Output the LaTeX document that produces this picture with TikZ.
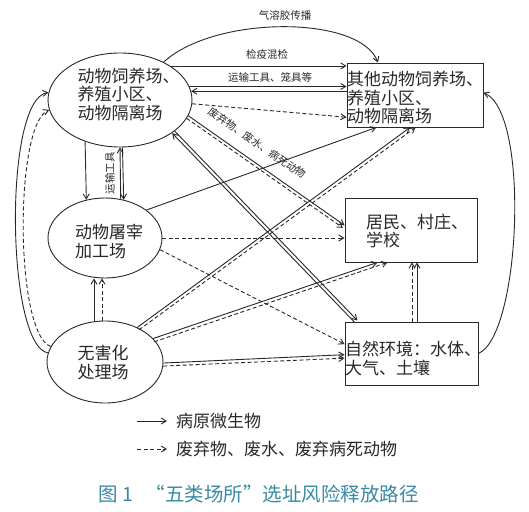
\documentclass[tikz,border=0pt]{standalone}
\usepackage{fontspec}
\setmainfont{Noto Sans CJK SC}
\usetikzlibrary{shapes.geometric,arrows.meta}
\definecolor{capcol}{RGB}{58,138,163}
\definecolor{ink}{RGB}{40,40,40}
\tikzset{
  ln/.style={draw=ink, line width=0.9pt},
  arr/.style={ln, -{Straight Barb[length=5pt,width=6pt]}},
  darr/.style={arr, dash pattern=on 4pt off 2.5pt},
  shp/.style={draw=ink, line width=0.9pt, inner sep=0pt},
  ell/.style={shp, ellipse},
  boxn/.style={shp, rectangle},
  nt/.style={font=\fontsize{17}{18.5}\selectfont, align=left, inner sep=0pt, text=ink},
  sm/.style={font=\fontsize{10.5}{12}\selectfont, inner sep=0pt, text=ink},
  leg/.style={font=\fontsize{17}{19}\selectfont, inner sep=0pt, text=ink, anchor=west},
}
\begin{document}
\begin{tikzpicture}[x=1pt,y=-1pt]
\useasboundingbox (0,0) rectangle (529,511);
\fill[white] (0,0) rectangle (529,511);

% shapes
\node[ell, minimum width=144pt, minimum height=94pt] (A) at (120,100) {};
\node[ell, minimum width=114pt, minimum height=80pt] (B) at (105,238) {};
\node[ell, minimum width=116pt, minimum height=82pt] (C) at (105,362) {};
\node[boxn, minimum width=136pt, minimum height=64pt] (D) at (415,95) {};
\node[boxn, minimum width=132pt, minimum height=64pt] (E) at (411,230) {};
\node[boxn, minimum width=133pt, minimum height=63pt] (F) at (411.5,353.5) {};

% texts
\node[nt] (Atext) at (128.5,94) {动物饲养场、\\养殖小区、\\动物隔离场};
\node[nt] (Btext) at (109,241.5) {动物屠宰\\加工场};
\node[nt] (Ctext) at (103,362.5) {无害化\\处理场};
\node[nt, text width=136pt] (Dtext) at (415,97.5) {其他动物饲养场、\\养殖小区、\\动物隔离场};
\node[nt, text width=102pt] (Etext) at (417,231) {居民、村庄、\\学校};
\node[nt, text width=133pt] (Ftext) at (411.5,358.5) {自然环境：水体、\\大气、土壤};

% aerosol
\draw[arr] (A.41) .. controls (215,15) and (360,15) .. ([xshift=-37pt]D.north);
\node[sm] (lab1) at (285,16) {气溶胶传播};
% quarantine
\draw[arr] (A.34) -- (A.34 -| D.west);
\node[sm] (lab2) at (267,54) {检疫混检};
% transport pair
\draw[arr] (A.11.5) -- (A.11.5 -| D.west);
\draw[arr] (A.7.3 -| D.west) -- (A.7.3);
\node[sm] (lab3) at (270,78) {运输工具、笼具等};
% A -> D dashed
\draw[darr] (A.-3.3) -- (D.198.7);
% A -> E pair
\draw[arr] (A.-13) -- (E.176.4);
\draw[darr] ([xshift=-1.7pt,yshift=-2.5pt]A.-13) -- ([xshift=-1.7pt,yshift=-2.5pt]E.176.4);
\node[sm, rotate=-34.4] (lab4) at (257,143) {废弃物、废水、病死动物};
% A <-> F pair
\draw[arr] ([xshift=1.2pt,yshift=1.1pt]A.-31.9) -- ([xshift=1.2pt,yshift=1.1pt]F.150.2);
\draw[arr] ([xshift=-1.2pt,yshift=-1.1pt]F.150.2) -- ([xshift=-1.2pt,yshift=-1.1pt]A.-31.9);
% B -> D
\draw[arr] (B.34.9) -- (D.220.1);
% C -> D pair
\draw[arr] (C.47.6) -- ([xshift=-5pt]D.south);
\draw[darr] ([xshift=1.8pt,yshift=-2.4pt]C.47.6) -- ([xshift=0.5pt]D.south);
% B -> E, B -> F dashed
\draw[darr] (B.east) -- (B.east -| E.west);
\draw[darr] (B.-12.3) -- (F.172.7);
% C -> E pair
\draw[arr] (C.26.6) -- (E.224.1);
\draw[darr] ([xshift=1.1pt,yshift=-3.3pt]C.26.6) -- ([xshift=10pt]E.224.1);
% C -> F pair
\draw[arr] (C.-1) -- (F.181.3);
\draw[darr] (C.-4.9) -- (F.184.7);
% F -> E pair
\draw[darr] ([xshift=0.5pt]F.north) -- ([xshift=0.5pt]F.north |- E.south);
\draw[arr] ([xshift=5.5pt]F.north) -- ([xshift=5.5pt]F.north |- E.south);
% C -> B pair
\draw[arr] ([xshift=-11pt]C.north) -- ([xshift=-11pt]B.south);
\draw[darr] ([xshift=-3pt]C.north) -- ([xshift=-3pt]B.south);
% A -> B, A <-> B
\draw[arr] (A.230.6) -- (B.116.7);
\draw[arr] (B.68.8) -- (A.south);
\draw[arr] (A.273.7) -- (B.64.6);
\node[sm, rotate=90] (lab5) at (110,173) {运输工具};
% left curves C -> A
\draw[arr] (C.171.5) .. controls +(-42,-8) and +(-45,6.5) .. (A.174.8);
\draw[darr] (C.164.7) .. controls +(-36,-12) and +(-35,15) .. (A.188.4);
% right curve F -> D
\draw[arr] (F.east) .. controls +(42,-18) and +(47,20) .. (D.2);

% legend
\coordinate (l1s) at (137,421);
\coordinate (l1e) at (167,421);
\coordinate (l2s) at (137,449);
\coordinate (l2e) at (167,449);
\draw[arr] (l1s) -- (l1e);
\draw[darr] (l2s) -- (l2e);
\node[leg] (l1t) at (176,421) {病原微生物};
\node[leg] (l2t) at (176,449) {废弃物、废水、废弃病死动物};

% caption
\node[font=\fontsize{19.5}{21}\selectfont, text=capcol, inner sep=0pt] (cap) at (258.5,494) {图\hspace{5pt}1\hspace{12pt}“五类场所”选址风险释放路径};
\end{tikzpicture}
\end{document}
